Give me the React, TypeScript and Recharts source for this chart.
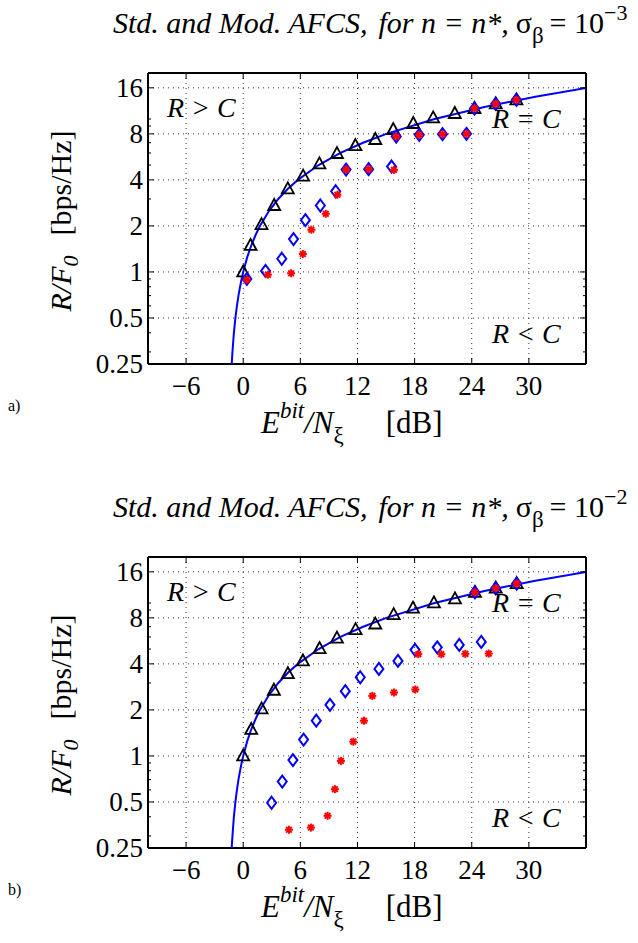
import React from 'react';
import { ComposedChart, Scatter, XAxis, YAxis, CartesianGrid } from 'recharts';

// capacity boundary R = C
const CAP_RATE = [0.25, 0.3, 0.35, 0.4, 0.5, 0.6, 0.7, 0.8, 0.9, 1, 1.25, 1.5, 1.75, 2, 2.5, 3, 3.5, 4, 5, 6, 7, 8, 10, 12, 14, 16];
const CAP_EBN0 = [-1.21, -1.13, -1.05, -0.98, -0.82, -0.66, -0.5, -0.33, -0.17, 0, 0.42, 0.86, 1.31, 1.76, 2.7, 3.68, 4.69, 5.74, 7.92, 10.21, 12.59, 15.03, 20.1, 25.33, 30.68, 36.12];

// panel a) sigma_beta = 1e-3
const A_TRI_X = [0, 0.77, 1.92, 3.25, 4.68, 6.29, 8.0, 9.85, 11.78, 13.87, 15.76, 17.86, 19.95, 22.22, 24.29, 26.52, 28.69];
const A_TRI_Y = [1, 1.49, 2.04, 2.72, 3.49, 4.23, 5.09, 5.95, 6.71, 7.35, 8.54, 9.35, 10.18, 10.87, 11.72, 12.57, 13.35];
const A_DIA_X = [0.38, 2.34, 4.05, 5.28, 6.53, 8.1, 9.71, 10.8, 13.17, 15.58, 16.07, 18.49, 20.93, 23.45, 24.29, 26.52, 28.69];
const A_DIA_Y = [0.9, 1.015, 1.22, 1.64, 2.18, 2.72, 3.37, 4.67, 4.7, 4.89, 7.69, 7.88, 7.96, 8.0, 11.72, 12.57, 13.35];
const A_STAR_X = [0.38, 2.59, 5.03, 6.26, 7.16, 8.67, 9.89, 10.8, 13.17, 15.83, 16.07, 18.49, 20.93, 23.45, 24.29, 26.52, 28.69];
const A_STAR_Y = [0.89, 0.96, 0.98, 1.31, 1.89, 2.4, 3.2, 4.67, 4.7, 4.65, 7.69, 7.88, 7.96, 8.0, 11.72, 12.57, 13.35];

// panel b) sigma_beta = 1e-2
const B_TRI_X = [0, 0.84, 1.93, 3.22, 4.69, 6.27, 8.02, 9.84, 11.8, 13.87, 15.8, 17.83, 20.03, 22.24, 24.34, 26.52, 28.72];
const B_TRI_Y = [1, 1.49, 2.03, 2.69, 3.45, 4.18, 5.04, 5.9, 6.7, 7.29, 8.4, 9.27, 10.03, 10.65, 11.74, 12.5, 13.4];
const B_DIA_X = [2.98, 4.1, 5.22, 6.34, 7.67, 9.11, 10.72, 12.29, 14.25, 16.25, 18.04, 20.38, 22.69, 25.0, 24.34, 26.52, 28.72];
const B_DIA_Y = [0.494, 0.68, 0.94, 1.28, 1.7, 2.16, 2.65, 3.27, 3.71, 4.18, 4.94, 5.13, 5.32, 5.57, 11.74, 12.5, 13.4];
const B_STAR_X = [4.8, 7.11, 8.86, 9.63, 10.26, 11.56, 12.68, 13.56, 15.83, 18.07, 18.39, 20.8, 23.33, 25.78, 24.34, 26.52, 28.72];
const B_STAR_Y = [0.329, 0.34, 0.406, 0.606, 0.928, 1.24, 1.7, 2.47, 2.6, 2.72, 4.63, 4.63, 4.65, 4.67, 11.74, 12.5, 13.4];

const X_TICKS = [-6, 0, 6, 12, 18, 24, 30];
const X_TICK_LABELS = ['\u22126', '0', '6', '12', '18', '24', '30'];
const Y_TICKS = [0.25, 0.5, 1, 2, 4, 8, 16];
const Y_MINOR = [0.3, 0.4, 0.6, 0.7, 0.8, 0.9, 3, 5, 6, 7, 9, 10];
const Y_ALL = [...Y_TICKS, ...Y_MINOR].sort((a, b) => a - b);

const FONT = "'Liberation Serif', 'Times New Roman', Times, serif";
const BLUE = '#0000ff';
const RED = '#ff0000';
const txt = { fontFamily: FONT };

const pts = (xs: number[], ys: number[]) => xs.map((x, i) => ({ x, y: ys[i] }));
const capacity = pts(CAP_EBN0, CAP_RATE);

const Triangle = (p: any) => (
  <polygon
    points={`${p.cx},${p.cy - 6.5} ${p.cx - 6},${p.cy + 4.5} ${p.cx + 6},${p.cy + 4.5}`}
    fill="none" stroke="#000" strokeWidth={1.8}
  />
);
const Diamond = (p: any) => (
  <polygon
    points={`${p.cx},${p.cy - 6} ${p.cx + 4.5},${p.cy} ${p.cx},${p.cy + 6} ${p.cx - 4.5},${p.cy}`}
    fill="none" stroke={BLUE} strokeWidth={2}
  />
);
const Star = (p: any) => {
  const r = 4;
  const d = r * 0.707;
  return (
    <g stroke={RED} strokeWidth={2}>
      <line x1={p.cx - r} y1={p.cy} x2={p.cx + r} y2={p.cy} />
      <line x1={p.cx} y1={p.cy - r} x2={p.cx} y2={p.cy + r} />
      <line x1={p.cx - d} y1={p.cy - d} x2={p.cx + d} y2={p.cy + d} />
      <line x1={p.cx - d} y1={p.cy + d} x2={p.cx + d} y2={p.cy - d} />
    </g>
  );
};
const NoDot = () => <g />;

const BottomTick = (p: any) => {
  const i = X_TICKS.indexOf(p.payload.value);
  return (
    <g>
      <line x1={p.x} x2={p.x} y1={p.y} y2={p.y - 6} stroke="#000" />
      <text x={p.x} y={p.y + 31} textAnchor="middle" fontSize={27} style={txt} fill="#000">
        {X_TICK_LABELS[i]}
      </text>
    </g>
  );
};
const TopTick = (p: any) => <line x1={p.x} x2={p.x} y1={p.y} y2={p.y + 6} stroke="#000" />;
const LeftTick = (p: any) => {
  const major = Y_TICKS.includes(p.payload.value);
  return (
    <g>
      <line x1={p.x + 5} x2={p.x + 5 + (major ? 6 : 3)} y1={p.y} y2={p.y} stroke="#000" />
      {major && (
        <text x={p.x} y={p.y} dy="0.35em" textAnchor="end" fontSize={27} style={txt} fill="#000">
          {p.payload.value}
        </text>
      )}
    </g>
  );
};
const RightTick = (p: any) => {
  const major = Y_TICKS.includes(p.payload.value);
  return <line x1={p.x} x2={p.x - (major ? 6 : 3)} y1={p.y} y2={p.y} stroke="#000" />;
};

const Panel = (props: {
  top: number; tag: string; exp: string;
  tri: { x: number; y: number }[]; dia: { x: number; y: number }[]; star: { x: number; y: number }[];
}) => (
  <div style={{ position: 'absolute', left: 0, top: props.top, width: 638, height: 484 }}>
    <ComposedChart width={638} height={410} margin={{ top: 72, right: 51, left: 88, bottom: 16 }}>
      <CartesianGrid xAxisId="b" yAxisId="g" stroke="#333" strokeDasharray="1 4" />
      <XAxis xAxisId="b" dataKey="x" type="number" domain={[-10, 36]} ticks={X_TICKS} interval={0}
        allowDataOverflow height={30} tickSize={0} tickMargin={0} tickLine={false}
        axisLine={{ stroke: '#000', strokeWidth: 2 }} tick={<BottomTick />} />
      <XAxis xAxisId="t" orientation="top" dataKey="x" type="number" domain={[-10, 36]} ticks={X_TICKS}
        interval={0} allowDataOverflow height={1} tickSize={0} tickMargin={0} tickLine={false}
        axisLine={{ stroke: '#000', strokeWidth: 2 }} tick={<TopTick />} />
      <YAxis yAxisId="l" dataKey="y" type="number" scale="log" domain={[0.25, 20]} ticks={Y_ALL}
        interval={0} allowDataOverflow width={60} tickSize={0} tickMargin={5} tickLine={false}
        axisLine={{ stroke: '#000', strokeWidth: 2 }} tick={<LeftTick />} />
      <YAxis yAxisId="r" orientation="right" dataKey="y" type="number" scale="log" domain={[0.25, 20]}
        ticks={Y_ALL} interval={0} allowDataOverflow width={1} tickSize={0} tickMargin={0} tickLine={false}
        axisLine={{ stroke: '#000', strokeWidth: 2 }} tick={<RightTick />} />
      <YAxis yAxisId="g" orientation="right" hide width={0} dataKey="y" type="number" scale="log"
        domain={[0.25, 20]} ticks={Y_TICKS} interval={0} allowDataOverflow />
      <Scatter xAxisId="b" yAxisId="l" data={capacity} shape={NoDot}
        line={{ stroke: BLUE, strokeWidth: 2 }} isAnimationActive={false} />
      <Scatter xAxisId="b" yAxisId="l" data={props.tri} shape={Triangle} isAnimationActive={false} />
      <Scatter xAxisId="b" yAxisId="l" data={props.dia} shape={Diamond} isAnimationActive={false} />
      <Scatter xAxisId="b" yAxisId="l" data={props.star} shape={Star} isAnimationActive={false} />
    </ComposedChart>
    <svg width={638} height={484} style={{ position: 'absolute', left: 0, top: 0, pointerEvents: 'none', fontFamily: FONT }}>
      <text x={113} y={33} fontSize={30} fill="#000" style={txt}>
        <tspan fontStyle="italic">Std. and Mod. AFCS,</tspan>
        <tspan fontStyle="italic" dx={11}>for n = n*,</tspan>
        <tspan dx={7}>σ</tspan>
        <tspan fontSize={23} dy={10}>β</tspan>
        <tspan dy={-10} dx={6}>= 10</tspan>
        <tspan fontSize={22} dy={-13}>{'\u2212' + props.exp}</tspan>
      </text>
      <text transform="translate(71, 221) rotate(-90)" textAnchor="middle" fontSize={30} fill="#000" style={txt}>
        <tspan fontStyle="italic">R/F</tspan>
        <tspan fontStyle="italic" fontSize={22} dy={7}>0</tspan>
        <tspan dy={-7} dx={20}>[bps/Hz]</tspan>
      </text>
      <text x={261} y={433} fontSize={31} fill="#000" style={txt}>
        <tspan fontStyle="italic">E</tspan>
        <tspan fontStyle="italic" fontSize={23} dy={-15}>bit</tspan>
        <tspan fontStyle="italic" dy={15}>/N</tspan>
        <tspan fontSize={23} dy={10}>ξ</tspan>
        <tspan dy={-10} dx={42}>[dB]</tspan>
      </text>
      <text x={8} y={411} fontSize={16} fill="#000" style={txt}>{props.tag}</text>
      <text x={167} y={117} fontSize={28} fontStyle="italic" fill="#000" style={txt}>{'R > C'}</text>
      <text x={492} y={128} fontSize={28} fontStyle="italic" fill="#000" style={txt}>{'R = C'}</text>
      <text x={492} y={343} fontSize={28} fontStyle="italic" fill="#000" style={txt}>{'R < C'}</text>
    </svg>
  </div>
);

export default function App() {
  return (
    <div style={{ position: 'absolute', left: 0, top: 0, width: 638, height: 943, background: '#fff' }}>
      <Panel top={0} tag="a)" exp="3"
        tri={pts(A_TRI_X, A_TRI_Y)} dia={pts(A_DIA_X, A_DIA_Y)} star={pts(A_STAR_X, A_STAR_Y)} />
      <Panel top={484} tag="b)" exp="2"
        tri={pts(B_TRI_X, B_TRI_Y)} dia={pts(B_DIA_X, B_DIA_Y)} star={pts(B_STAR_X, B_STAR_Y)} />
    </div>
  );
}
